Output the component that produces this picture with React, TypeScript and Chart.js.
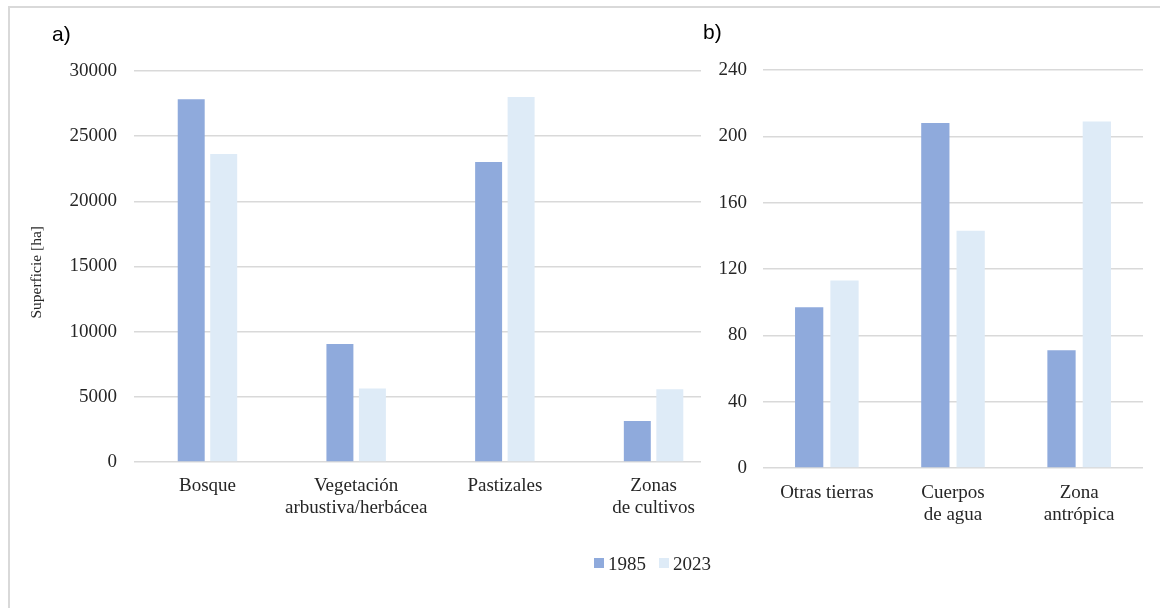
import React, { useEffect, useRef } from "react";
import { Chart, registerables } from "chart.js";

Chart.register(...registerables);

// Land cover classes, panel a (hectares)
const coverLabels: (string | string[])[] = [
  "Bosque",
  ["Vegetación", "arbustiva/herbácea"],
  "Pastizales",
  ["Zonas", "de cultivos"],
];
const cover1985 = [27830, 9060, 23020, 3150];
const cover2023 = [23630, 5640, 28010, 5580];

// Minor classes, panel b (hectares)
const minorLabels: (string | string[])[] = [
  "Otras tierras",
  ["Cuerpos", "de agua"],
  ["Zona", "antrópica"],
];
const minor1985 = [97, 208, 71];
const minor2023 = [113, 143, 209];

const seriesNames = ["1985", "2023"];
const seriesColors = ["#8FAADC", "#DEEBF7"];

const SERIF = "'Liberation Serif', 'Times New Roman', serif";
const TEXT = "#262626";
const GRID = "#D9D9D9";

type PanelOpts = {
  labels: (string | string[])[];
  a: number[];
  b: number[];
  max: number;
  step: number;
  xMin: number;
  xMax: number;
  yWidth: number;
  xHeight: number;
  padTop: number;
  padRight: number;
  tickPad: number;
  xPad: number;
  catPct: number;
  barPct: number;
  title?: string;
};

// Categories sit at integer positions on a linear x scale so that the
// plotted span can differ from the gridline span.
const toPoints = (vals: number[]) => vals.map((v, i) => ({ x: i, y: v }));

function buildChart(canvas: HTMLCanvasElement, o: PanelOpts) {
  return new Chart(canvas, {
    type: "bar",
    data: {
      datasets: [
        {
          label: seriesNames[0],
          data: toPoints(o.a),
          backgroundColor: seriesColors[0],
          categoryPercentage: o.catPct,
          barPercentage: o.barPct,
        },
        {
          label: seriesNames[1],
          data: toPoints(o.b),
          backgroundColor: seriesColors[1],
          categoryPercentage: o.catPct,
          barPercentage: o.barPct,
        },
      ],
    },
    options: {
      animation: false,
      responsive: false,
      maintainAspectRatio: false,
      layout: { padding: { top: o.padTop, right: o.padRight, left: 0, bottom: 0 } },
      plugins: { legend: { display: false }, tooltip: { enabled: false } },
      scales: {
        x: {
          type: "linear",
          min: o.xMin,
          max: o.xMax,
          offset: false,
          grid: { display: false },
          border: { display: false },
          ticks: {
            stepSize: 1,
            includeBounds: false,
            color: TEXT,
            font: { family: SERIF, size: 19, lineHeight: 1.15 },
            padding: o.xPad,
            maxRotation: 0,
            autoSkip: false,
            callback: (v: any) => {
              const i = Math.round(Number(v));
              return Math.abs(Number(v) - i) < 1e-6 && o.labels[i] !== undefined
                ? o.labels[i]
                : "";
            },
          },
          afterFit: (s: any) => {
            s.height = o.xHeight;
          },
        },
        y: {
          min: 0,
          max: o.max,
          grid: { color: GRID, lineWidth: 1.5, drawTicks: false },
          border: { display: false },
          ticks: {
            stepSize: o.step,
            color: TEXT,
            font: { family: SERIF, size: 19 },
            padding: o.tickPad,
            callback: (v: any) => String(v),
          },
          title: o.title
            ? {
                display: true,
                text: o.title,
                color: TEXT,
                font: { family: SERIF, size: 15.5 },
                padding: { top: 18, bottom: 0 },
              }
            : { display: false },
          afterFit: (s: any) => {
            s.width = o.yWidth;
          },
        },
      },
    },
  } as any);
}

export default function App() {
  const leftRef = useRef<HTMLCanvasElement>(null);
  const rightRef = useRef<HTMLCanvasElement>(null);

  useEffect(() => {
    const left = buildChart(leftRef.current!, {
      labels: coverLabels,
      a: cover1985,
      b: cover2023,
      max: 30000,
      step: 5000,
      xMin: -0.494,
      xMax: 3.319,
      yWidth: 124,
      xHeight: 98,
      padTop: 51,
      padRight: 5,
      tickPad: 17,
      xPad: 5,
      catPct: 0.437,
      barPct: 0.83,
      title: "Superficie [ha]   ",
    });
    const right = buildChart(rightRef.current!, {
      labels: minorLabels,
      a: minor1985,
      b: minor2023,
      max: 240,
      step: 40,
      xMin: -0.506,
      xMax: 2.506,
      yWidth: 57,
      xHeight: 92,
      padTop: 50,
      padRight: 7,
      tickPad: 16,
      xPad: 6,
      catPct: 0.56,
      barPct: 0.8,
    });
    return () => {
      left.destroy();
      right.destroy();
    };
  }, []);

  const panelTag: React.CSSProperties = {
    position: "absolute",
    fontFamily: "'Liberation Sans', Arial, sans-serif",
    fontSize: 21,
    lineHeight: "21px",
    color: "#000",
  };
  const legendText: React.CSSProperties = {
    position: "absolute",
    fontFamily: SERIF,
    fontSize: 19,
    lineHeight: "19px",
    color: TEXT,
    top: 554,
  };

  return (
    <div
      style={{
        position: "fixed",
        left: 0,
        top: 0,
        width: 1160,
        height: 608,
        overflow: "hidden",
        background: "#fff",
      }}
    >
      <div
        style={{
          position: "absolute",
          left: 8,
          top: 6,
          width: 1200,
          height: 700,
          border: "2px solid #D9D9D9",
        }}
      />
      <canvas
        ref={leftRef}
        width={696}
        height={540}
        style={{ position: "absolute", left: 10, top: 20 }}
      />
      <canvas
        ref={rightRef}
        width={444}
        height={540}
        style={{ position: "absolute", left: 706, top: 20 }}
      />
      <div style={{ ...panelTag, left: 52, top: 23 }}>a)</div>
      <div style={{ ...panelTag, left: 703, top: 21 }}>b)</div>
      <div
        style={{
          position: "absolute",
          left: 594,
          top: 558,
          width: 10,
          height: 10,
          background: seriesColors[0],
        }}
      />
      <div style={{ ...legendText, left: 608 }}>{seriesNames[0]}</div>
      <div
        style={{
          position: "absolute",
          left: 659,
          top: 558,
          width: 10,
          height: 10,
          background: seriesColors[1],
        }}
      />
      <div style={{ ...legendText, left: 673 }}>{seriesNames[1]}</div>
    </div>
  );
}
